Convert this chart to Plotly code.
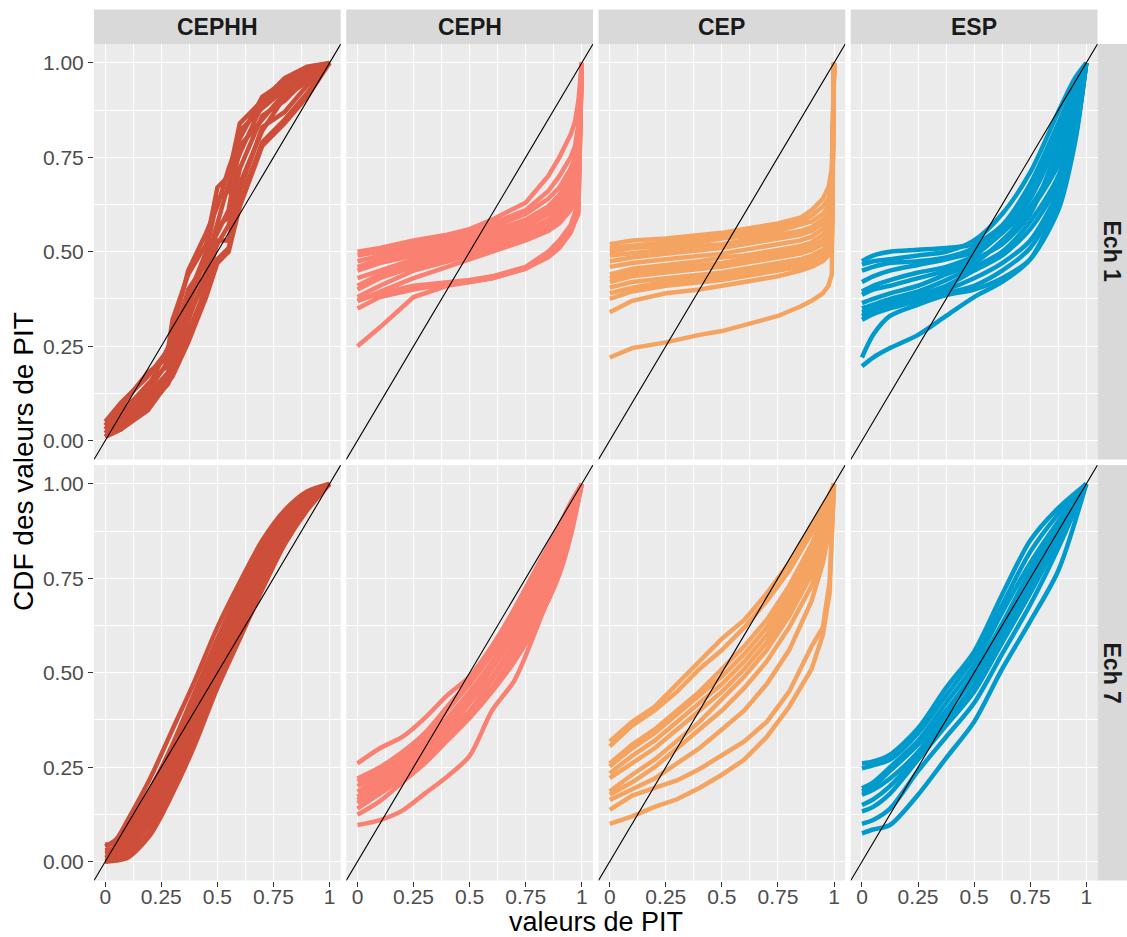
import plotly.graph_objects as go

W, H = 1127, 937

modeles = ["CEPHH", "CEPH", "CEP", "ESP"]
echeances = ["Ech 1", "Ech 7"]
couleurs = {"CEPHH": "#CD4F39", "CEPH": "#FA8072", "CEP": "#F4A460", "ESP": "#009ACD"}

x_ticks = [0, 0.25, 0.5, 0.75, 1]
x_ticktext = ["0", "0.25", "0.5", "0.75", "1"]
y_ticks = [0, 0.25, 0.5, 0.75, 1]
y_ticktext = ["0.00", "0.25", "0.50", "0.75", "1.00"]

# --- Ech 1 ---
pit_cephh_1 = [0, 0.07, 0.19, 0.28, 0.3, 0.37, 0.45, 0.5, 0.55, 0.6, 0.7, 0.8, 0.9, 1.0]
cdf_cephh_1 = [
    [0.05, 0.10, 0.17, 0.24, 0.32, 0.44, 0.52, 0.67, 0.70, 0.84, 0.90, 0.96, 0.99, 1],
    [0.04, 0.09, 0.18, 0.22, 0.29, 0.45, 0.55, 0.62, 0.72, 0.80, 0.91, 0.95, 0.98, 1],
    [0.03, 0.08, 0.14, 0.25, 0.27, 0.38, 0.50, 0.64, 0.66, 0.82, 0.88, 0.93, 0.98, 1],
    [0.04, 0.07, 0.15, 0.20, 0.25, 0.40, 0.47, 0.58, 0.68, 0.76, 0.89, 0.94, 0.97, 1],
    [0.02, 0.06, 0.13, 0.21, 0.23, 0.35, 0.49, 0.55, 0.61, 0.78, 0.85, 0.92, 0.97, 1],
    [0.03, 0.05, 0.12, 0.18, 0.24, 0.33, 0.43, 0.57, 0.59, 0.72, 0.86, 0.90, 0.96, 1],
    [0.02, 0.05, 0.11, 0.17, 0.20, 0.32, 0.45, 0.52, 0.57, 0.68, 0.82, 0.91, 0.95, 1],
    [0.01, 0.04, 0.10, 0.16, 0.19, 0.29, 0.40, 0.53, 0.53, 0.66, 0.83, 0.87, 0.94, 1],
    [0.01, 0.03, 0.09, 0.15, 0.18, 0.28, 0.41, 0.48, 0.51, 0.63, 0.79, 0.85, 0.92, 1],
    [0.01, 0.03, 0.08, 0.15, 0.17, 0.26, 0.38, 0.47, 0.50, 0.62, 0.78, 0.84, 0.91, 1],
]

pit_ceph_1 = [0, 0.1, 0.25, 0.4, 0.5, 0.6, 0.75, 0.85, 0.9, 0.95, 0.97, 0.985, 1.0]
cdf_ceph_1 = [
    [0.50, 0.51, 0.53, 0.545, 0.56, 0.585, 0.63, 0.70, 0.75, 0.81, 0.845, 0.90, 1],
    [0.49, 0.50, 0.52, 0.54, 0.555, 0.575, 0.61, 0.66, 0.70, 0.75, 0.78, 0.84, 1],
    [0.475, 0.49, 0.51, 0.53, 0.545, 0.565, 0.60, 0.64, 0.67, 0.72, 0.75, 0.80, 1],
    [0.46, 0.48, 0.50, 0.52, 0.535, 0.555, 0.585, 0.62, 0.65, 0.70, 0.73, 0.77, 1],
    [0.45, 0.47, 0.49, 0.51, 0.525, 0.545, 0.575, 0.61, 0.635, 0.68, 0.71, 0.75, 1],
    [0.43, 0.45, 0.48, 0.50, 0.515, 0.535, 0.565, 0.60, 0.62, 0.66, 0.69, 0.72, 1],
    [0.41, 0.44, 0.47, 0.495, 0.51, 0.53, 0.555, 0.585, 0.61, 0.645, 0.67, 0.70, 1],
    [0.40, 0.43, 0.46, 0.485, 0.50, 0.52, 0.545, 0.575, 0.60, 0.63, 0.655, 0.68, 1],
    [0.38, 0.41, 0.45, 0.475, 0.49, 0.51, 0.54, 0.565, 0.59, 0.62, 0.64, 0.67, 1],
    [0.37, 0.395, 0.43, 0.46, 0.48, 0.50, 0.53, 0.555, 0.575, 0.61, 0.63, 0.66, 1],
    [0.37, 0.39, 0.41, 0.42, 0.425, 0.435, 0.46, 0.50, 0.53, 0.57, 0.60, 0.63, 1],
    [0.35, 0.38, 0.40, 0.415, 0.42, 0.43, 0.455, 0.49, 0.52, 0.56, 0.585, 0.61, 1],
    [0.25, 0.30, 0.38, 0.41, 0.42, 0.43, 0.455, 0.485, 0.51, 0.55, 0.58, 0.60, 1],
]

pit_cep_1 = [0, 0.1, 0.25, 0.4, 0.5, 0.6, 0.75, 0.85, 0.9, 0.95, 0.975, 0.99, 1.0]
cdf_cep_1 = [
    [0.52, 0.53, 0.535, 0.545, 0.55, 0.56, 0.575, 0.59, 0.61, 0.64, 0.67, 0.72, 1],
    [0.51, 0.515, 0.525, 0.535, 0.545, 0.55, 0.565, 0.58, 0.595, 0.62, 0.64, 0.68, 1],
    [0.50, 0.51, 0.515, 0.525, 0.535, 0.54, 0.555, 0.57, 0.58, 0.60, 0.62, 0.65, 1],
    [0.49, 0.495, 0.505, 0.515, 0.52, 0.53, 0.545, 0.555, 0.565, 0.585, 0.60, 0.63, 1],
    [0.475, 0.485, 0.495, 0.505, 0.51, 0.52, 0.535, 0.545, 0.555, 0.575, 0.59, 0.61, 1],
    [0.46, 0.47, 0.48, 0.49, 0.495, 0.505, 0.52, 0.53, 0.54, 0.56, 0.575, 0.60, 1],
    [0.44, 0.455, 0.465, 0.475, 0.485, 0.49, 0.505, 0.515, 0.525, 0.545, 0.56, 0.58, 1],
    [0.43, 0.445, 0.455, 0.465, 0.47, 0.48, 0.495, 0.505, 0.515, 0.53, 0.545, 0.565, 1],
    [0.42, 0.435, 0.445, 0.455, 0.46, 0.47, 0.485, 0.495, 0.505, 0.52, 0.535, 0.555, 1],
    [0.405, 0.42, 0.43, 0.44, 0.445, 0.455, 0.47, 0.48, 0.49, 0.505, 0.52, 0.54, 1],
    [0.39, 0.405, 0.42, 0.43, 0.435, 0.445, 0.46, 0.47, 0.48, 0.495, 0.51, 0.53, 1],
    [0.375, 0.395, 0.41, 0.42, 0.425, 0.435, 0.45, 0.46, 0.47, 0.485, 0.50, 0.52, 1],
    [0.34, 0.37, 0.39, 0.40, 0.41, 0.42, 0.435, 0.45, 0.46, 0.475, 0.49, 0.51, 1],
    [0.22, 0.245, 0.26, 0.28, 0.29, 0.305, 0.33, 0.355, 0.37, 0.39, 0.41, 0.44, 1],
]

pit_esp_1 = [0, 0.05, 0.125, 0.25, 0.375, 0.5, 0.625, 0.75, 0.875, 0.95, 1.0]
cdf_esp_1 = [
    [0.475, 0.49, 0.50, 0.505, 0.51, 0.52, 0.57, 0.68, 0.84, 0.94, 1],
    [0.466, 0.475, 0.48, 0.49, 0.50, 0.53, 0.60, 0.71, 0.87, 0.96, 1],
    [0.45, 0.46, 0.47, 0.475, 0.485, 0.51, 0.56, 0.66, 0.82, 0.93, 1],
    [0.42, 0.435, 0.45, 0.465, 0.48, 0.50, 0.55, 0.64, 0.80, 0.92, 1],
    [0.395, 0.41, 0.425, 0.445, 0.46, 0.49, 0.55, 0.62, 0.75, 0.89, 1],
    [0.386, 0.40, 0.41, 0.43, 0.45, 0.48, 0.52, 0.60, 0.78, 0.91, 1],
    [0.364, 0.375, 0.39, 0.41, 0.44, 0.47, 0.53, 0.61, 0.73, 0.88, 1],
    [0.35, 0.36, 0.375, 0.395, 0.425, 0.46, 0.50, 0.58, 0.70, 0.86, 1],
    [0.34, 0.35, 0.365, 0.385, 0.41, 0.45, 0.49, 0.56, 0.68, 0.83, 1],
    [0.33, 0.345, 0.36, 0.38, 0.40, 0.43, 0.47, 0.53, 0.66, 0.82, 1],
    [0.32, 0.335, 0.35, 0.37, 0.39, 0.41, 0.45, 0.51, 0.64, 0.80, 1],
    [0.22, 0.28, 0.33, 0.36, 0.385, 0.40, 0.43, 0.48, 0.61, 0.79, 1],
    [0.197, 0.22, 0.245, 0.28, 0.33, 0.38, 0.42, 0.48, 0.63, 0.80, 1],
]

# --- Ech 7 ---
pit_cephh_7 = [0, 0.05, 0.1, 0.2, 0.3, 0.4, 0.5, 0.6, 0.7, 0.8, 0.9, 1.0]
cdf_cephh_7 = [
    [0.04, 0.06, 0.11, 0.22, 0.35, 0.48, 0.62, 0.74, 0.85, 0.93, 0.98, 1],
    [0.045, 0.05, 0.09, 0.19, 0.31, 0.45, 0.59, 0.72, 0.83, 0.92, 0.97, 1],
    [0.03, 0.04, 0.08, 0.18, 0.30, 0.43, 0.57, 0.71, 0.82, 0.91, 0.97, 1],
    [0.02, 0.03, 0.07, 0.16, 0.28, 0.41, 0.55, 0.69, 0.81, 0.90, 0.96, 1],
    [0.03, 0.03, 0.06, 0.15, 0.27, 0.40, 0.54, 0.67, 0.80, 0.90, 0.96, 1],
    [0.01, 0.02, 0.05, 0.14, 0.26, 0.39, 0.53, 0.66, 0.78, 0.89, 0.96, 1],
    [0.01, 0.02, 0.04, 0.12, 0.24, 0.37, 0.51, 0.65, 0.77, 0.88, 0.95, 1],
    [0.0, 0.01, 0.03, 0.10, 0.22, 0.35, 0.50, 0.63, 0.76, 0.87, 0.95, 1],
    [0.0, 0.005, 0.02, 0.08, 0.20, 0.33, 0.48, 0.61, 0.74, 0.86, 0.94, 1],
    [0.0, 0.003, 0.01, 0.07, 0.18, 0.31, 0.46, 0.59, 0.72, 0.84, 0.93, 1],
]

pit_ceph_7 = [0, 0.1, 0.2, 0.3, 0.4, 0.5, 0.6, 0.7, 0.8, 0.9, 0.95, 1.0]
cdf_ceph_7 = [
    [0.26, 0.30, 0.33, 0.38, 0.44, 0.49, 0.57, 0.66, 0.76, 0.87, 0.93, 1],
    [0.22, 0.25, 0.29, 0.34, 0.41, 0.48, 0.57, 0.67, 0.78, 0.89, 0.95, 1],
    [0.212, 0.24, 0.28, 0.33, 0.40, 0.47, 0.55, 0.65, 0.76, 0.88, 0.94, 1],
    [0.20, 0.23, 0.27, 0.32, 0.38, 0.45, 0.53, 0.63, 0.74, 0.86, 0.93, 1],
    [0.185, 0.22, 0.26, 0.31, 0.37, 0.44, 0.52, 0.61, 0.72, 0.85, 0.92, 1],
    [0.172, 0.21, 0.25, 0.30, 0.36, 0.43, 0.51, 0.60, 0.70, 0.83, 0.91, 1],
    [0.163, 0.20, 0.24, 0.29, 0.35, 0.42, 0.49, 0.58, 0.69, 0.82, 0.90, 1],
    [0.155, 0.19, 0.23, 0.28, 0.34, 0.40, 0.48, 0.57, 0.67, 0.80, 0.89, 1],
    [0.14, 0.18, 0.22, 0.27, 0.33, 0.39, 0.46, 0.55, 0.65, 0.78, 0.87, 1],
    [0.124, 0.16, 0.21, 0.26, 0.32, 0.38, 0.45, 0.53, 0.63, 0.76, 0.86, 1],
    [0.097, 0.11, 0.135, 0.18, 0.225, 0.28, 0.40, 0.48, 0.62, 0.78, 0.87, 1],
]

pit_cep_7 = [0, 0.1, 0.2, 0.3, 0.4, 0.5, 0.6, 0.7, 0.8, 0.9, 0.95, 0.98, 1.0]
cdf_cep_7 = [
    [0.318, 0.37, 0.41, 0.47, 0.53, 0.59, 0.64, 0.71, 0.79, 0.89, 0.94, 0.97, 1],
    [0.305, 0.36, 0.40, 0.45, 0.51, 0.56, 0.62, 0.69, 0.77, 0.87, 0.93, 0.97, 1],
    [0.26, 0.31, 0.35, 0.40, 0.45, 0.51, 0.57, 0.64, 0.73, 0.84, 0.91, 0.96, 1],
    [0.252, 0.30, 0.34, 0.39, 0.44, 0.49, 0.55, 0.62, 0.71, 0.82, 0.89, 0.95, 1],
    [0.234, 0.28, 0.32, 0.37, 0.42, 0.47, 0.53, 0.60, 0.69, 0.80, 0.88, 0.94, 1],
    [0.221, 0.26, 0.30, 0.35, 0.40, 0.45, 0.51, 0.58, 0.67, 0.78, 0.86, 0.93, 1],
    [0.186, 0.23, 0.27, 0.32, 0.37, 0.43, 0.49, 0.56, 0.65, 0.76, 0.84, 0.92, 1],
    [0.177, 0.21, 0.25, 0.30, 0.35, 0.40, 0.46, 0.53, 0.62, 0.73, 0.82, 0.90, 1],
    [0.163, 0.19, 0.22, 0.26, 0.30, 0.35, 0.40, 0.47, 0.56, 0.69, 0.79, 0.88, 1],
    [0.137, 0.175, 0.195, 0.215, 0.245, 0.283, 0.318, 0.37, 0.45, 0.57, 0.62, 0.74, 1],
    [0.10, 0.12, 0.145, 0.165, 0.195, 0.23, 0.27, 0.33, 0.41, 0.51, 0.60, 0.71, 1],
]

pit_esp_7 = [0, 0.05, 0.125, 0.25, 0.375, 0.5, 0.625, 0.75, 0.875, 1.0]
cdf_esp_7 = [
    [0.26, 0.265, 0.283, 0.353, 0.46, 0.556, 0.707, 0.85, 0.936, 1],
    [0.247, 0.255, 0.27, 0.34, 0.44, 0.54, 0.68, 0.82, 0.92, 1],
    [0.194, 0.21, 0.25, 0.32, 0.42, 0.52, 0.66, 0.79, 0.90, 1],
    [0.186, 0.20, 0.24, 0.31, 0.40, 0.50, 0.63, 0.77, 0.89, 1],
    [0.177, 0.19, 0.22, 0.29, 0.39, 0.49, 0.62, 0.75, 0.88, 1],
    [0.15, 0.165, 0.20, 0.28, 0.37, 0.47, 0.60, 0.73, 0.86, 1],
    [0.133, 0.145, 0.18, 0.27, 0.36, 0.45, 0.58, 0.71, 0.85, 1],
    [0.10, 0.11, 0.14, 0.24, 0.33, 0.42, 0.55, 0.68, 0.83, 1],
    [0.075, 0.085, 0.097, 0.177, 0.274, 0.37, 0.51, 0.636, 0.77, 1],
]

donnees = {
    ("CEPHH", "Ech 1"): (pit_cephh_1, cdf_cephh_1),
    ("CEPH", "Ech 1"): (pit_ceph_1, cdf_ceph_1),
    ("CEP", "Ech 1"): (pit_cep_1, cdf_cep_1),
    ("ESP", "Ech 1"): (pit_esp_1, cdf_esp_1),
    ("CEPHH", "Ech 7"): (pit_cephh_7, cdf_cephh_7),
    ("CEPH", "Ech 7"): (pit_ceph_7, cdf_ceph_7),
    ("CEP", "Ech 7"): (pit_cep_7, cdf_cep_7),
    ("ESP", "Ech 7"): (pit_esp_7, cdf_esp_7),
}

# panneaux dont les courbes sont lissées (pas de saut brutal près de 1)
lisses = {("ESP", "Ech 1"), ("CEPHH", "Ech 7"), ("CEPH", "Ech 7"), ("ESP", "Ech 7")}

# géométrie des panneaux (pixels)
left0, pw, hgap = 94, 246.75, 5.5
top0, ph, vgap = 44, 415.5, 5.5
strip_top = 9.5
strip_right = 1127

fig = go.Figure()
shapes = []
annotations = []
layout = {}

for r, ech in enumerate(echeances):
    for c, mod in enumerate(modeles):
        k = r * 4 + c + 1
        sfx = "" if k == 1 else str(k)
        x0 = left0 + c * (pw + hgap)
        y0 = top0 + r * (ph + vgap)
        pit, cdfs = donnees[(mod, ech)]
        forme = "spline" if (mod, ech) in lisses else "linear"
        for cdf in cdfs:
            fig.add_trace(go.Scatter(
                x=pit, y=cdf, mode="lines", xaxis="x" + sfx, yaxis="y" + sfx,
                line=dict(color=couleurs[mod], width=4.5, shape=forme, smoothing=0.8),
                showlegend=False, hoverinfo="skip"))
        # diagonale y = x
        fig.add_trace(go.Scatter(
            x=[-0.1, 1.1], y=[-0.1, 1.1], mode="lines", xaxis="x" + sfx, yaxis="y" + sfx,
            line=dict(color="black", width=1.1), showlegend=False, hoverinfo="skip"))

        bas = r == len(echeances) - 1
        gauche = c == 0
        layout["xaxis" + sfx] = dict(
            domain=[x0 / W, (x0 + pw) / W], anchor="y" + sfx, range=[-0.05, 1.05],
            tickvals=x_ticks, ticktext=x_ticktext, showticklabels=bas,
            ticks="outside" if bas else "", ticklen=5, tickwidth=1.1, tickcolor="#333333",
            tickfont=dict(size=21, color="#4D4D4D"), ticklabelstandoff=-8,
            showgrid=True, gridcolor="white", gridwidth=1.1, zeroline=False, showline=False,
            minor=dict(tickvals=[0.125, 0.375, 0.625, 0.875], showgrid=True,
                       gridcolor="white", gridwidth=0.55, ticks=""),
        )
        layout["yaxis" + sfx] = dict(
            domain=[1 - (y0 + ph) / H, 1 - y0 / H], anchor="x" + sfx, range=[-0.05, 1.05],
            tickvals=y_ticks, ticktext=y_ticktext, showticklabels=gauche,
            ticks="outside" if gauche else "", ticklen=5, tickwidth=1.1, tickcolor="#333333",
            tickfont=dict(size=21, color="#4D4D4D"),
            showgrid=True, gridcolor="white", gridwidth=1.1, zeroline=False, showline=False,
            minor=dict(tickvals=[0.125, 0.375, 0.625, 0.875], showgrid=True,
                       gridcolor="white", gridwidth=0.55, ticks=""),
        )

        # bandeaux du haut
        if r == 0:
            shapes.append(dict(type="rect", xref="paper", yref="paper",
                               x0=x0 / W, x1=(x0 + pw) / W,
                               y0=1 - top0 / H, y1=1 - strip_top / H,
                               fillcolor="#D9D9D9", line=dict(width=0), layer="below"))
            annotations.append(dict(text="<b>" + mod + "</b>", xref="paper", yref="paper",
                                    x=(x0 + pw / 2) / W, y=1 - (strip_top + top0) / 2 / H,
                                    showarrow=False, xanchor="center", yanchor="middle",
                                    font=dict(size=23, color="#1A1A1A")))
        # bandeaux de droite
        if c == len(modeles) - 1:
            xr = x0 + pw
            shapes.append(dict(type="rect", xref="paper", yref="paper",
                               x0=xr / W, x1=strip_right / W,
                               y0=1 - (y0 + ph) / H, y1=1 - y0 / H,
                               fillcolor="#D9D9D9", line=dict(width=0), layer="below"))
            annotations.append(dict(text="<b>" + ech + "</b>", xref="paper", yref="paper",
                                    x=(xr + strip_right) / 2 / W, y=1 - (y0 + ph / 2) / H,
                                    showarrow=False, textangle=90,
                                    xanchor="center", yanchor="middle",
                                    font=dict(size=23, color="#1A1A1A")))

# titres des axes
annotations.append(dict(text="valeurs de PIT", xref="paper", yref="paper",
                        x=(left0 + 1097.5) / 2 / W, y=1 - 922 / H,
                        showarrow=False, xanchor="center", yanchor="middle",
                        font=dict(size=27, color="black")))
annotations.append(dict(text="CDF des valeurs de PIT", xref="paper", yref="paper",
                        x=24 / W, y=1 - 462 / H, textangle=-90,
                        showarrow=False, xanchor="center", yanchor="middle",
                        font=dict(size=28, color="black")))

fig.update_layout(
    width=W, height=H, autosize=False,
    margin=dict(l=0, r=0, t=0, b=0),
    paper_bgcolor="white", plot_bgcolor="#EBEBEB",
    font=dict(family="Liberation Sans, Arial, sans-serif"),
    shapes=shapes, annotations=annotations,
    **layout,
)

# la page a une marge de 8 px par défaut : on la supprime
fig.write_html("out.html", config={"displayModeBar": False},
               post_script="document.body.style.margin='0';document.body.style.overflow='hidden';")
